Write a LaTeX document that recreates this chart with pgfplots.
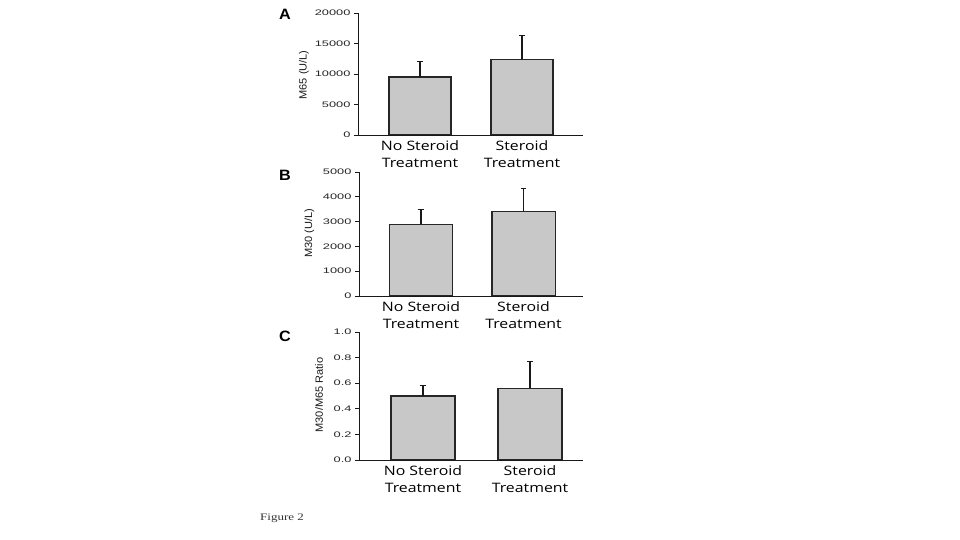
\documentclass[border=0pt]{standalone}
\usepackage{fontspec}
\usepackage{pgfplots}
\pgfplotsset{compat=1.18}
\setmainfont{Liberation Sans}
\newfontfamily\tickfont[FakeStretch=1.6]{Liberation Sans}
\newfontfamily\catfont[FakeStretch=1.22]{Open Sans}
\newfontfamily\labfont[FakeStretch=1.05]{Liberation Sans}
\newfontfamily\letfont[FakeStretch=1.08]{Liberation Sans}
\newfontfamily\figfont[FakeStretch=1.3]{Liberation Serif}
\definecolor{barc}{HTML}{C8C8C8}
\pgfplotsset{
  panel/.style={
    axis lines=left,
    axis line style={-, line width=0.9pt, black!90},
    scale only axis,
    enlargelimits=false,
    ybar,
    xtick={0,1},
    xticklabels={{No Steroid\\Treatment},{Steroid\\Treatment}},
    x tick style={draw=none},
    xticklabel style={align=center, font=\catfont\fontsize{13}{17.5}\selectfont, text=black, yshift=2pt},
    y tick style={line width=0.9pt, black!90},
    tick align=outside,
    major tick length=4pt,
    yticklabel style={font=\tickfont\fontsize{8}{9}\selectfont, text=black!85},
    scaled y ticks=false,
    /pgf/number format/assume math mode=true,
    /pgf/number format/1000 sep={},
  },
  bars/.style={
    fill=barc, draw=black!85, line width=1.1pt,
    error bars/.cd, y dir=plus, y explicit,
    error bar style={line width=1.1pt, black!90},
    error mark options={rotate=90, black!90, line width=1.1pt, mark size=2.6pt},
  },
}
\begin{document}
\begin{tikzpicture}
\useasboundingbox (0,0) rectangle (960pt,540pt);
% Panel A
\begin{axis}[panel, at={(358pt,405pt)}, anchor=south west,
  width=225pt, height=122pt,
  xmin=-0.608, xmax=1.598, bar width=0.608,
  ymin=0, ymax=20000, ytick={0,5000,10000,15000,20000}]
\addplot[bars] coordinates {(0,9500) +- (0,2500) (1,12400) +- (0,3900)};
\end{axis}
% Panel B
\begin{axis}[panel, at={(359pt,244pt)}, anchor=south west,
  width=224pt, height=124pt,
  xmin=-0.605, xmax=1.580, bar width=0.615,
  ymin=0, ymax=5000, ytick={0,1000,2000,3000,4000,5000}]
\addplot[bars] coordinates {(0,2890) +- (0,580) (1,3415) +- (0,930)};
\end{axis}
% Panel C
\begin{axis}[panel, at={(359pt,80pt)}, anchor=south west,
  width=224pt, height=128pt,
  xmin=-0.598, xmax=1.495, bar width=0.598,
  ymin=0, ymax=1, ytick={0,0.2,0.4,0.6,0.8,1.0},
  yticklabel style={/pgf/number format/.cd, fixed, fixed zerofill, precision=1}]
\addplot[bars] coordinates {(0,0.50) +- (0,0.08) (1,0.56) +- (0,0.213)};
\end{axis}
% Y labels
\node[rotate=90, font=\labfont\fontsize{10.5}{12}\selectfont, text=black!90] at (304pt,465pt) {M65 (U/L)};
\node[rotate=90, font=\labfont\fontsize{10.5}{12}\selectfont, text=black!90] at (309.5pt,307pt) {M30 (U/L)};
\node[rotate=90, font=\labfont\fontsize{10.5}{12}\selectfont, text=black!90] at (319pt,145pt) {M30/M65 Ratio};
% Panel letters
\node[font=\letfont\bfseries\fontsize{15}{16}\selectfont] at (285pt,526pt) {A};
\node[font=\letfont\bfseries\fontsize{15}{16}\selectfont] at (285pt,365pt) {B};
\node[font=\letfont\bfseries\fontsize{15}{16}\selectfont] at (285pt,204pt) {C};
% Figure caption
\node[font=\figfont\fontsize{10}{12}\selectfont, text=black!80] at (282pt,22pt) {Figure 2};
\end{tikzpicture}
\end{document}
